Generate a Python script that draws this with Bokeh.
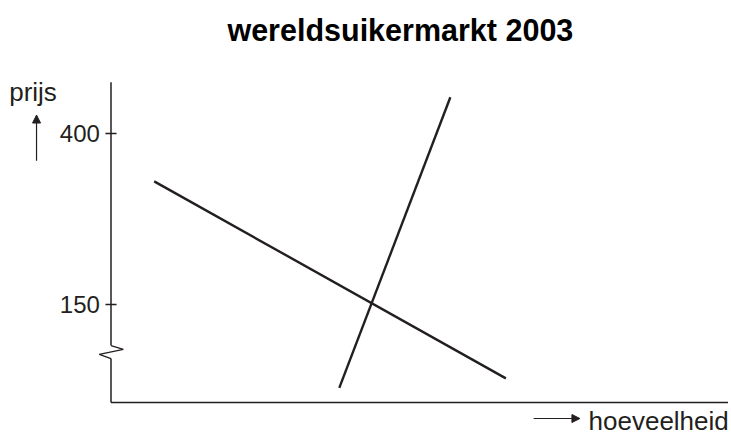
from bokeh.plotting import figure
from bokeh.models import Range1d, Arrow, NormalHead
from bokeh.core.properties import value
from bokeh.embed import file_html
from bokeh.resources import INLINE

# ---- data ----
title_text = "wereldsuikermarkt 2003"
y_label = "prijs"
x_label = "hoeveelheid"
tick_values = [150, 400]
tick_labels = ["150", "400"]
demand_q = [7, 64]
demand_p = [330, 42]
supply_q = [37, 55]
supply_p = [28, 453]

# axis extents (data units)
axis_base_p = 6.7     # price at the horizontal axis
axis_top_p = 475      # top of the price axis
axis_end_q = 100      # right end of the quantity axis
break_top_p = 90      # axis break (zigzag)
break_bot_p = 71

INK = "#231f20"
FONT = "Liberation Sans"

W, H = 731, 436
p = figure(width=W, height=H, output_backend="svg", toolbar_location=None,
           x_range=Range1d(-17.91, 100.57), y_range=Range1d(-42.99, 594.44),
           min_border=0, x_axis_type=None, y_axis_type=None)
p.grid.visible = False
p.outline_line_color = None
p.background_fill_color = "white"
p.border_fill_color = "white"

# horizontal axis
p.line([0, axis_end_q], [axis_base_p, axis_base_p], line_color=INK, line_width=1.5)
# vertical axis with zigzag break
zz = (break_top_p - break_bot_p)
p.line([0, 0], [break_top_p, axis_top_p], line_color=INK, line_width=1.5)
p.line([0, 0], [axis_base_p, break_bot_p], line_color=INK, line_width=1.5)
p.line([0, 2.0, -1.9, 0],
       [break_top_p, break_top_p - zz * 0.3, break_top_p - zz * 0.68, break_bot_p],
       line_color=INK, line_width=1.3)

# ticks and tick labels
p.segment(x0=[-0.9] * len(tick_values), x1=[0.9] * len(tick_values),
          y0=tick_values, y1=tick_values, line_color=INK, line_width=1.3)
p.text(x=[-1.8] * len(tick_values), y=tick_values, text=tick_labels,
       text_align="right", text_baseline="middle", text_font=value(FONT),
       text_font_size="24px", text_color=INK)

# supply and demand
p.line(demand_q, demand_p, line_color=INK, line_width=2.4)
p.line(supply_q, supply_p, line_color=INK, line_width=2.4)

# axis titles with arrows
p.text(x=[-16.5], y=[460.5], text=[y_label], text_align="left",
       text_baseline="middle", text_font=value(FONT),
       text_font_size="26px", text_color=INK)
p.add_layout(Arrow(end=NormalHead(size=8, fill_color=INK, line_color=INK),
                   x_start=-12.07, y_start=360, x_end=-12.07, y_end=427,
                   line_color=INK, line_width=1.2))
p.text(x=[77.4], y=[-20.5], text=[x_label], text_align="left",
       text_baseline="middle", text_font=value(FONT),
       text_font_size="26px", text_color=INK)
p.add_layout(Arrow(end=NormalHead(size=8, fill_color=INK, line_color=INK),
                   x_start=68.5, y_start=-16.7, x_end=76.0, y_end=-16.7,
                   line_color=INK, line_width=1.2))

# title
p.text(x=[46.9], y=[550.6], text=[title_text], text_align="center",
       text_baseline="alphabetic", text_font=value(FONT),
       text_font_size="30.5px", text_font_style="bold", text_color="black")

open("out.html", "w").write(file_html(p, INLINE))
